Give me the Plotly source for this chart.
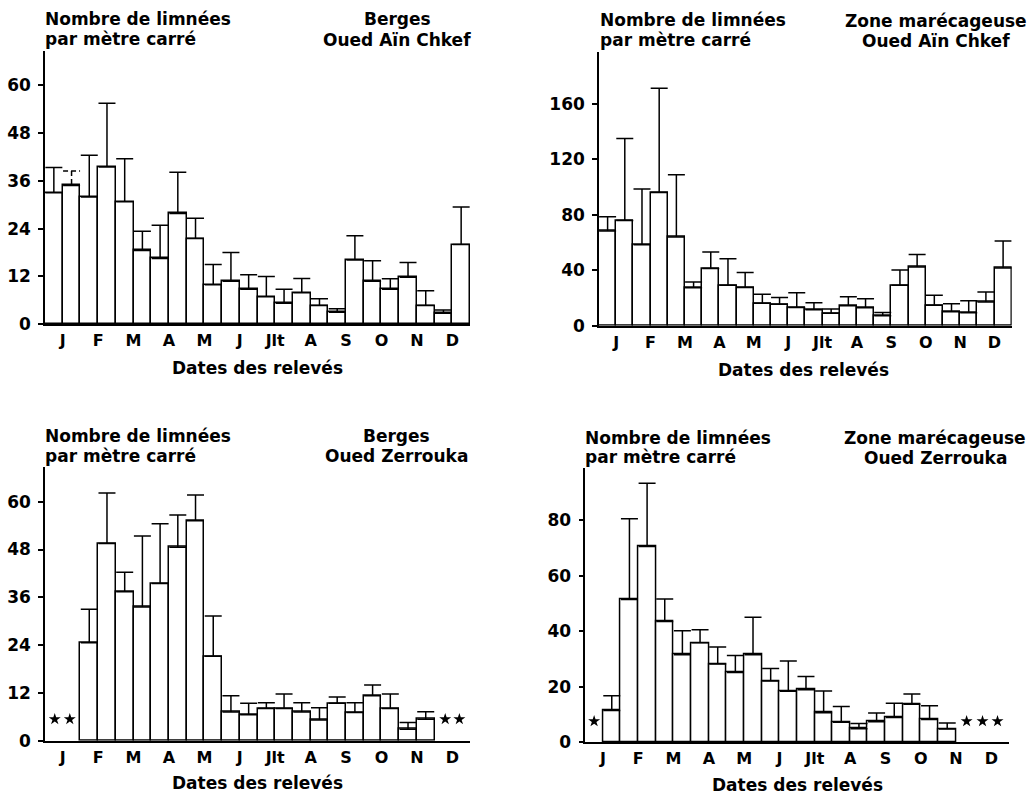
import plotly.graph_objects as go

W, H = 1031, 797

# ---------------- data ----------------
months = ["J", "F", "M", "A", "M", "J", "Jlt", "A", "S", "O", "N", "D"]

# Berges - Oued Aïn Chkef (two samplings per month)
p1_mean = [33.0, 34.8, 31.9, 39.4, 30.7, 18.5, 16.5, 27.8, 21.5, 9.9, 10.8, 8.8,
           6.9, 5.3, 7.9, 4.7, 3.0, 16.1, 10.8, 8.8, 11.8, 4.7, 2.8, 20.0]
p1_upper = [39.3, 38.4, 42.4, 55.4, 41.5, 23.3, 24.8, 38.1, 26.6, 15.0, 18.0, 12.4,
            12.0, 8.8, 11.5, 6.4, 3.9, 22.2, 15.9, 11.4, 15.5, 8.4, 3.6, 29.4]
p1_dashed = [1]  # sampling whose error bar is drawn dashed

# Zone marécageuse - Oued Aïn Chkef
p2_mean = [68.2, 75.9, 58.4, 96.1, 63.9, 27.4, 41.3, 29.1, 27.6, 16.1, 15.4, 13.2,
           11.5, 8.9, 14.4, 13.0, 7.2, 29.1, 42.3, 14.7, 10.1, 9.4, 17.1, 41.6]
p2_upper = [78.6, 135.0, 98.5, 171.1, 108.8, 31.5, 53.1, 48.3, 38.4, 22.6, 20.4, 23.8,
            16.6, 12.0, 20.9, 19.5, 9.6, 40.1, 51.4, 21.9, 15.9, 18.0, 24.3, 61.0]

# Berges - Oued Zerrouka (None = no sample, marked by a star)
p3_mean = [None, None, 24.6, 49.5, 37.4, 33.6, 39.5, 48.6, 55.2, 21.2, 7.2, 6.5,
           8.1, 8.1, 7.2, 5.2, 9.4, 7.1, 11.3, 8.1, 2.9, 5.4, None, None]
p3_upper = [None, None, 33.0, 62.2, 42.3, 51.4, 54.5, 56.7, 61.7, 31.3, 11.3, 9.4,
            9.5, 11.7, 9.5, 8.3, 11.0, 9.5, 14.0, 11.7, 4.6, 7.3, None, None]
p3_star_x = [0.05, 0.9, 22.1, 22.9]
p3_star_y = [5.4, 5.4, 5.4, 5.4]

# Zone marécageuse - Oued Zerrouka
p4_mean = [None, 11.4, 51.4, 70.6, 43.5, 31.5, 35.8, 28.2, 25.1, 31.5, 22.0, 18.3,
           18.9, 10.6, 7.1, 4.8, 7.3, 8.8, 13.6, 8.1, 4.7, None, None, None]
p4_upper = [None, 16.7, 80.6, 93.4, 51.6, 40.2, 40.5, 34.3, 31.2, 45.0, 26.5, 29.2,
            23.6, 18.4, 12.8, 6.7, 10.5, 14.0, 17.3, 13.1, 6.9, None, None, None]
p4_star_x = [0.0, 21.1, 22.0, 22.85]
p4_star_y = [7.5, 7.5, 7.5, 7.5]

p1_ticks = [0, 12, 24, 36, 48, 60]
p2_ticks = [0, 40, 80, 120, 160]
p3_ticks = [0, 12, 24, 36, 48, 60]
p4_ticks = [0, 20, 40, 60, 80]

y_title_left = ["Nombre de limnées", "par mètre carré"]
x_title = "Dates des relevés"
p1_site = ["Berges", "Oued Aïn Chkef"]
p2_site = ["Zone marécageuse", "Oued Aïn Chkef"]
p3_site = ["Berges", "Oued Zerrouka"]
p4_site = ["Zone marécageuse", "Oued Zerrouka"]

# ---------------- layout helpers ----------------
def px_x(v):
    return v / W

def px_y(v):
    return 1 - v / H

FAM = "DejaVu Sans"
def font(size):
    return dict(family=FAM, size=size, color="black", weight="bold")

panels = [
    dict(mean=p1_mean, upper=p1_upper, ticks=p1_ticks, site=p1_site,
         xdom=(45, 470), ybase=324.3, ytop=51, ymax=68.5,
         left=(43, 19, 39), right=(397, 19, 40), xt=(257, 368),
         stars=None, dashed=p1_dashed),
    dict(mean=p2_mean, upper=p2_upper, ticks=p2_ticks, site=p2_site,
         xdom=(599, 1011.7), ybase=325.7, ytop=51.7, ymax=197.5,
         left=(598, 20, 40), right=(936, 21, 41), xt=(803, 370),
         stars=None, dashed=[]),
    dict(mean=p3_mean, upper=p3_upper, ticks=p3_ticks, site=p3_site,
         xdom=(45, 470), ybase=740.7, ytop=466.7, ymax=68.8,
         left=(43, 435.5, 455.5), right=(396, 435.5, 456), xt=(257, 783),
         stars=(p3_star_x, p3_star_y), dashed=[]),
    dict(mean=p4_mean, upper=p4_upper, ticks=p4_ticks, site=p4_site,
         xdom=(585.3, 1009), ybase=742, ytop=468.3, ymax=98.8,
         left=(583, 437.5, 457), right=(935, 438, 457.5), xt=(797, 785),
         stars=(p4_star_x, p4_star_y), dashed=[]),
]

fig = go.Figure()
annotations = []
layout = dict(
    width=W, height=H, margin=dict(l=0, r=0, t=0, b=0, autoexpand=False),
    paper_bgcolor="white", plot_bgcolor="white", showlegend=False,
    bargap=0,
)

tickpos = [2 * k + 0.5 for k in range(len(months))]

for n, p in enumerate(panels, start=1):
    sx = "" if n == 1 else str(n)
    xa, ya = "x" + sx, "y" + sx
    xs = list(range(len(p["mean"])))
    err = []
    for i, (m, u) in enumerate(zip(p["mean"], p["upper"])):
        if m is None or u is None or i in p["dashed"]:
            err.append(None)
        else:
            err.append(u - m)
    fig.add_trace(go.Bar(
        x=xs, y=p["mean"], width=1, xaxis=xa, yaxis=ya,
        marker=dict(color="white", line=dict(color="black", width=1.5)),
        error_y=dict(type="data", array=err, arrayminus=[0] * len(err),
                     symmetric=False, color="black", thickness=1.5, width=8.5),
        hoverinfo="skip",
    ))
    for i in p["dashed"]:
        m, u = p["mean"][i], p["upper"][i]
        fig.add_trace(go.Scatter(
            x=[i - 0.48, i + 0.48, None, i, i], y=[u, u, None, u, m],
            mode="lines", xaxis=xa, yaxis=ya,
            line=dict(color="black", width=1.5, dash="5px,3px"),
            hoverinfo="skip",
        ))
    if p["stars"]:
        fig.add_trace(go.Scatter(
            x=p["stars"][0], y=p["stars"][1], mode="markers", xaxis=xa, yaxis=ya,
            marker=dict(symbol="star", size=9, color="black", line=dict(width=0)),
            hoverinfo="skip",
        ))
    x0, x1 = p["xdom"]
    layout["xaxis" + sx] = dict(
        domain=[px_x(x0), px_x(x1)], anchor=ya, range=[-0.5, len(xs) - 0.5],
        showline=True, linecolor="black", linewidth=1.5, ticks="",
        tickvals=tickpos, ticktext=months, tickfont=font(16),
        showgrid=False, zeroline=False, fixedrange=True, ticklabelstandoff=1,
        automargin=False,
    )
    layout["yaxis" + sx] = dict(
        domain=[px_y(p["ybase"]), px_y(p["ytop"])], anchor=xa,
        range=[0, p["ymax"]], showline=True, linecolor="black", linewidth=1.5,
        ticks="outside", ticklen=5, tickwidth=1.5, tickcolor="black",
        tickvals=p["ticks"], tickfont=font(17), showgrid=False, zeroline=False,
        fixedrange=True, ticklabelstandoff=4, automargin=False,
    )
    lx, ly1, ly2 = p["left"]
    rx, ry1, ry2 = p["right"]
    for txt, yy in zip(y_title_left, (ly1, ly2)):
        annotations.append(dict(text=txt, x=px_x(lx), y=px_y(yy), xref="paper",
                                yref="paper", xanchor="left", yanchor="middle",
                                showarrow=False, font=font(17)))
    for txt, yy in zip(p["site"], (ry1, ry2)):
        annotations.append(dict(text=txt, x=px_x(rx), y=px_y(yy), xref="paper",
                                yref="paper", xanchor="center", yanchor="middle",
                                showarrow=False, font=font(17)))
    tx, ty = p["xt"]
    annotations.append(dict(text=x_title, x=px_x(tx), y=px_y(ty), xref="paper",
                            yref="paper", xanchor="center", yanchor="middle",
                            showarrow=False, font=font(17)))

layout["annotations"] = annotations
fig.update_layout(**layout)
fig.write_html("out.html")
